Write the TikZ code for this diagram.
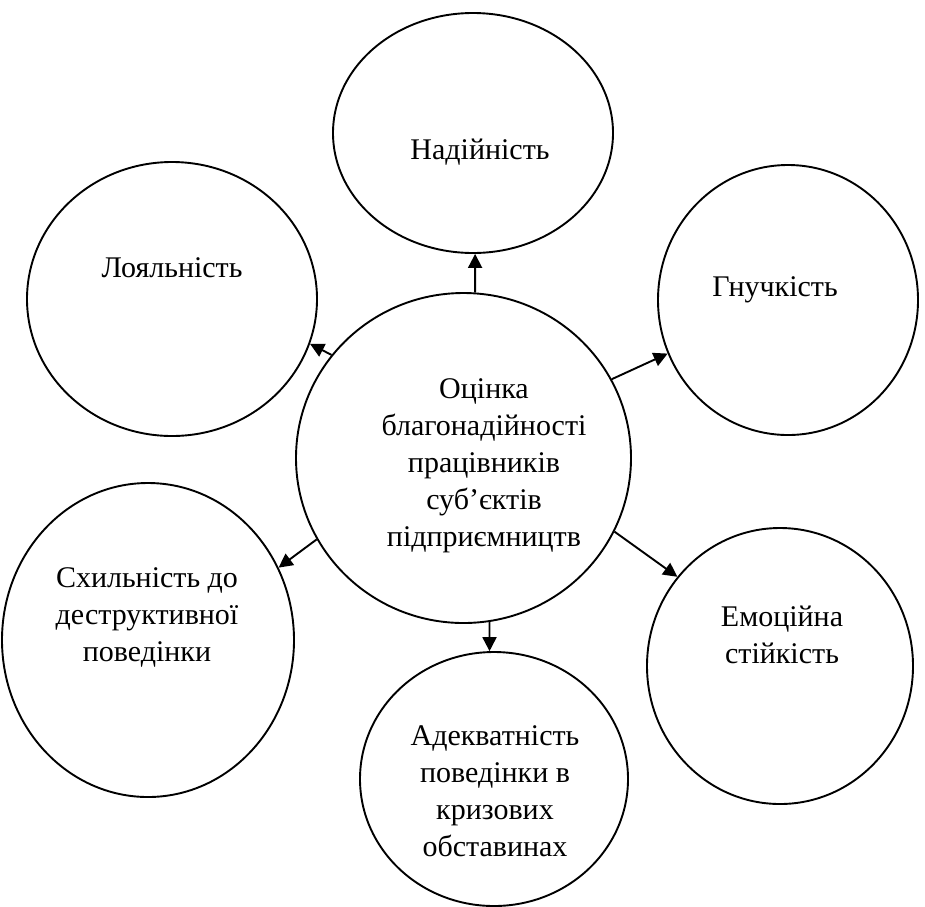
\documentclass[tikz,border=0pt]{standalone}
\usepackage{fontspec}
\setmainfont{Liberation Serif}
\usetikzlibrary{shapes.geometric,arrows.meta}
\tikzset{
  oval/.style={ellipse, draw=black, line width=1.9pt, inner sep=0pt},
  lbl/.style={align=center, inner sep=0pt, font=\fontsize{30}{37}\selectfont},
  arr/.style={line width=1.9pt, -{Triangle[length=14pt,width=14pt]}}
}
\begin{document}
\begin{tikzpicture}[x=1pt,y=-1pt]
\useasboundingbox (0,0) rectangle (925,906);
% ellipses
\node[oval, minimum width=335pt, minimum height=330pt] (c) at (463.5,458) {};
\node[oval, minimum width=280pt, minimum height=240pt] (top) at (473,133) {};
\node[oval, minimum width=290pt, minimum height=274pt] (loy) at (172,299) {};
\node[oval, minimum width=260pt, minimum height=270pt] (gn) at (788,300) {};
\node[oval, minimum width=292pt, minimum height=314pt] (sch) at (148,640) {};
\node[oval, minimum width=266pt, minimum height=276pt] (em) at (780,666) {};
\node[oval, minimum width=268pt, minimum height=254pt] (ad) at (494,779) {};
% texts
\node[lbl] (tc) at (484,466) {Оцінка\\благонадійності\\працівників\\суб’єктів\\підприємництв};
\node[lbl] (ttop) at (480,152) {Надійність};
\node[lbl] (tloy) at (172,268) {Лояльність};
\node[lbl] (tgn) at (775,290) {Гнучкість};
\node[lbl] (tsch) at (147,617) {Схильність до\\деструктивної\\поведінки};
\node[lbl] (tem) at (782,635) {Емоційна\\стійкість};
\node[lbl] (tad) at (495,791) {Адекватність\\поведінки в\\кризових\\обставинах};
% arrows
\draw[arr] (c.86.3) -- (top.-89.5);
\draw[arr] (c.142) -- (loy.-18);
\draw[arr] (c.28) -- (gn.-156);
\draw[arr] (c.209) -- (sch.29);
\draw[arr] (c.-81) -- (ad.92.3);
\draw[arr] (c.-26) -- (em.139);
\end{tikzpicture}
\end{document}
